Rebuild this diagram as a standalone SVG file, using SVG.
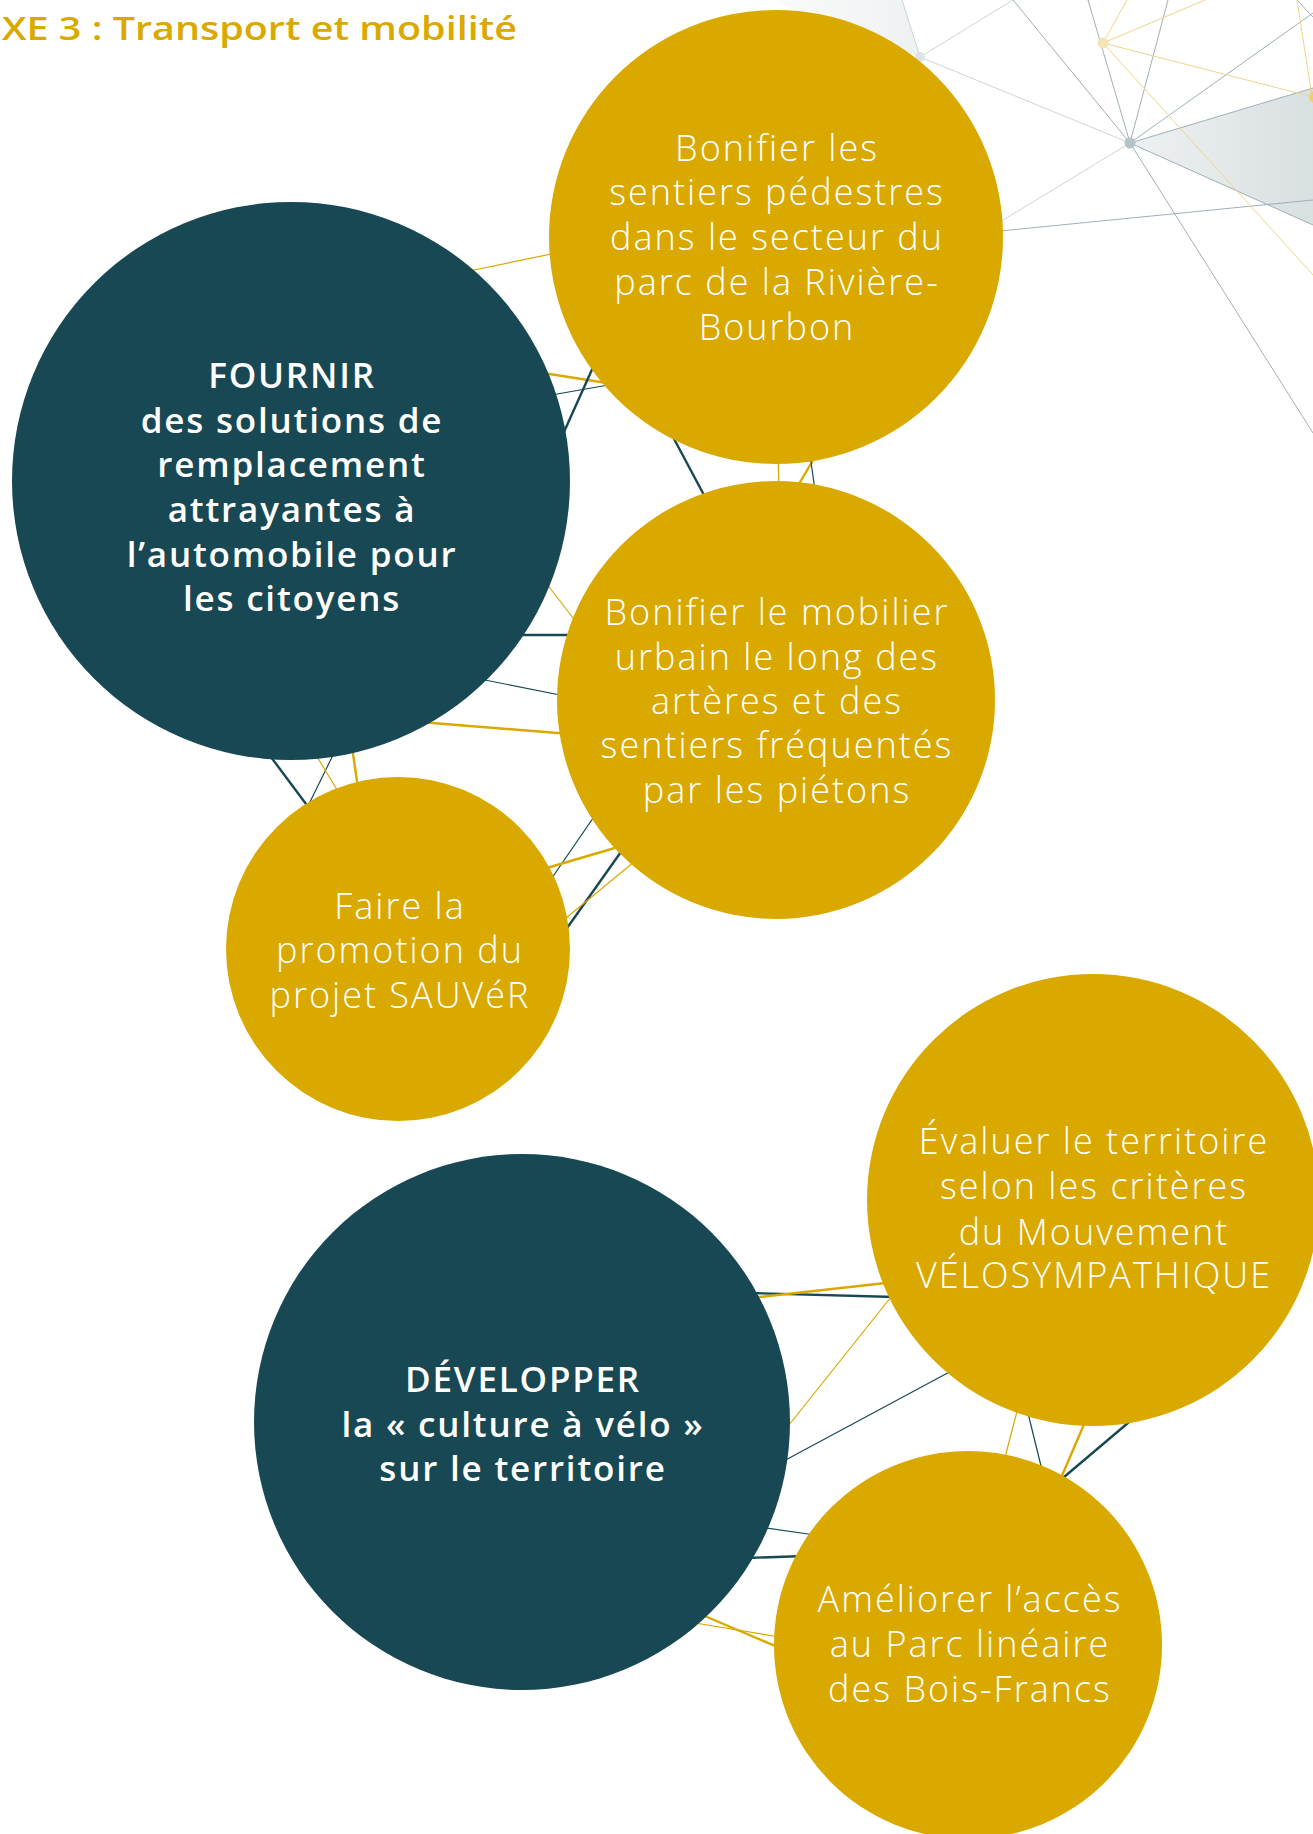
<svg xmlns="http://www.w3.org/2000/svg" width="1313" height="1834" viewBox="0 0 1313 1834">
<defs>
<linearGradient id="gA" x1="0" y1="0" x2="1" y2="0">
<stop offset="0" stop-color="#eef1f2"/><stop offset="1" stop-color="#d9e0e2"/>
</linearGradient>
<linearGradient id="gB" x1="0" y1="0" x2="1" y2="0">
<stop offset="0" stop-color="#fbfcfc"/><stop offset="1" stop-color="#eef1f2"/>
</linearGradient>
<style>
.gold{fill:#d9a900}
.dark{fill:#174853}
.lg{stroke:#d9a900;fill:none}
.ld{stroke:#174853;fill:none}
.t1{stroke-width:1.2}
.t2{stroke-width:2.4}
.dn{stroke:#9fb0b6;stroke-width:1;fill:none}
.dnl{stroke:#ccd5d8;stroke-width:1;fill:none}
.dny{stroke:#edd58d;stroke-width:1;fill:none}
.tl{font-family:"Open Sans","Liberation Sans",sans-serif;font-weight:300;font-size:36px;letter-spacing:2px;fill:#ffffff;text-anchor:middle;font-variant-ligatures:none}
.tb{font-family:"Open Sans","Liberation Sans",sans-serif;font-weight:600;font-size:35px;letter-spacing:1.8px;fill:#ffffff;text-anchor:middle;font-variant-ligatures:none}
.title{font-family:"Open Sans","Liberation Sans",sans-serif;font-weight:600;font-size:33px;fill:#d9a900}
</style>
</defs>
<rect width="1313" height="1834" fill="#ffffff"/>

<g id="decor">
<polygon points="765,-2 902,-2 920,57" fill="url(#gB)"/>
<polygon points="1130,143 1313,88 1313,225" fill="url(#gA)"/>
<line class="dnl" x1="902" y1="0" x2="920" y2="57"/>
<line class="dnl" x1="920" y1="57" x2="1013" y2="0"/>
<line class="dnl" x1="920" y1="57" x2="1130" y2="143"/>
<line class="dn" x1="1013" y1="0" x2="1130" y2="143"/>
<line class="dn" x1="1088" y1="0" x2="1130" y2="143"/>
<line class="dn" x1="1168" y1="0" x2="1130" y2="143"/>
<line class="dn" x1="1130" y1="143" x2="1313" y2="13"/>
<line class="dn" x1="1130" y1="143" x2="1313" y2="88"/>
<line class="dn" x1="1130" y1="143" x2="1313" y2="225"/>
<line class="dnl" x1="1130" y1="143" x2="990" y2="228"/>
<line class="dn" x1="1130" y1="143" x2="1313" y2="433"/>
<line class="dn" x1="990" y1="232" x2="1313" y2="200"/>
<line class="dn" x1="1297" y1="0" x2="1313" y2="17"/>
<line class="dny" x1="1103" y1="43" x2="1127" y2="0"/>
<line class="dny" x1="1103" y1="43" x2="1205" y2="0"/>
<line class="dny" x1="1103" y1="43" x2="1313" y2="97"/>
<line class="dny" x1="1103" y1="43" x2="1313" y2="275"/>
<line class="dny" x1="1297" y1="0" x2="1312" y2="97"/>
<circle cx="920" cy="57" r="5" fill="#dde3e6"/>
<circle cx="1130" cy="143" r="5.5" fill="#b5c3c7"/>
<circle cx="1103" cy="43" r="5.5" fill="#f4e3b6"/>
<circle cx="1315" cy="97" r="6" fill="#f0cf6e"/>
</g>

<text class="title" x="2" y="40" textLength="515" lengthAdjust="spacingAndGlyphs">XE 3 : Transport et mobilité</text>

<g id="connectors">
<line class="lg t1" x1="440" y1="277" x2="590" y2="246"/>
<line class="lg t2" x1="530" y1="371" x2="620" y2="385"/>
<line class="ld t1" x1="540" y1="397" x2="620" y2="383"/>
<line class="ld t2" x1="555" y1="452" x2="603" y2="345"/>
<line class="ld t2" x1="665" y1="422" x2="712" y2="510"/>
<line class="lg t1" x1="778" y1="455" x2="779" y2="490"/>
<line class="lg t2" x1="793" y1="494" x2="822" y2="445"/>
<line class="ld t1" x1="810" y1="455" x2="815" y2="490"/>
<line class="lg t1" x1="540" y1="575" x2="583" y2="631"/>
<line class="ld t2" x1="515" y1="635" x2="575" y2="635"/>
<line class="ld t1" x1="480" y1="679" x2="565" y2="696"/>
<line class="lg t2" x1="420" y1="722" x2="570" y2="734"/>
<line class="ld t2" x1="262" y1="745" x2="312" y2="812"/>
<line class="ld t1" x1="337" y1="747" x2="305" y2="812"/>
<line class="lg t1" x1="313" y1="750" x2="342" y2="798"/>
<line class="lg t2" x1="351" y1="740" x2="359" y2="795"/>
<line class="ld t1" x1="600" y1="808" x2="545" y2="888"/>
<line class="lg t2" x1="540" y1="870" x2="625" y2="845"/>
<line class="ld t2" x1="628" y1="842" x2="560" y2="938"/>
<line class="lg t1" x1="640" y1="857" x2="560" y2="923"/>
<line class="ld t2" x1="750" y1="1293" x2="895" y2="1297"/>
<line class="lg t2" x1="750" y1="1298" x2="895" y2="1282"/>
<line class="lg t1" x1="895" y1="1292" x2="785" y2="1430"/>
<line class="ld t1" x1="955" y1="1369" x2="780" y2="1463"/>
<line class="lg t1" x1="1020" y1="1400" x2="1003" y2="1465"/>
<line class="ld t1" x1="1026" y1="1405" x2="1042" y2="1470"/>
<line class="lg t2" x1="1088" y1="1415" x2="1058" y2="1485"/>
<line class="ld t2" x1="1135" y1="1417" x2="1057" y2="1483"/>
<line class="ld t1" x1="760" y1="1527" x2="815" y2="1535"/>
<line class="ld t2" x1="745" y1="1558" x2="805" y2="1556"/>
<line class="lg t2" x1="700" y1="1614" x2="780" y2="1648"/>
<line class="lg t1" x1="695" y1="1623" x2="780" y2="1637"/>
</g>

<g id="node-sentiers">
<circle class="gold" cx="776" cy="237" r="227"/>
<text class="tl" x="777" y="161">Bonifier les</text>
<text class="tl" x="777" y="205">sentiers pédestres</text>
<text class="tl" x="777" y="250">dans le secteur du</text>
<text class="tl" x="777" y="295">parc de la Rivière-</text>
<text class="tl" x="777" y="340">Bourbon</text>
</g>

<g id="node-fournir">
<circle class="dark" cx="291" cy="481" r="279"/>
<text class="tb" x="292" y="388">FOURNIR</text>
<text class="tb" x="292" y="433">des solutions de</text>
<text class="tb" x="292" y="477">remplacement</text>
<text class="tb" x="292" y="522">attrayantes à</text>
<text class="tb" x="292" y="567">l’automobile pour</text>
<text class="tb" x="292" y="611">les citoyens</text>
</g>

<g id="node-mobilier">
<circle class="gold" cx="776" cy="700" r="219"/>
<text class="tl" x="777" y="625">Bonifier le mobilier</text>
<text class="tl" x="777" y="670">urbain le long des</text>
<text class="tl" x="777" y="714">artères et des</text>
<text class="tl" x="777" y="758">sentiers fréquentés</text>
<text class="tl" x="777" y="803">par les piétons</text>
</g>

<g id="node-sauver">
<circle class="gold" cx="398" cy="949" r="172"/>
<text class="tl" x="400" y="919">Faire la</text>
<text class="tl" x="400" y="963">promotion du</text>
<text class="tl" x="400" y="1008">projet SAUVéR</text>
</g>

<g id="node-evaluer">
<circle class="gold" cx="1093" cy="1200" r="226"/>
<text class="tl" x="1094" y="1154">Évaluer le territoire</text>
<text class="tl" x="1094" y="1199">selon les critères</text>
<text class="tl" x="1094" y="1245">du Mouvement</text>
<text class="tl" x="1094" y="1288">VÉLOSYMPATHIQUE</text>
</g>

<g id="node-developper">
<circle class="dark" cx="522" cy="1422" r="268"/>
<text class="tb" x="523" y="1392">DÉVELOPPER</text>
<text class="tb" x="523" y="1437">la « culture à vélo »</text>
<text class="tb" x="523" y="1481">sur le territoire</text>
</g>

<g id="node-ameliorer">
<circle class="gold" cx="968" cy="1645" r="194"/>
<text class="tl" x="970" y="1612">Améliorer l’accès</text>
<text class="tl" x="970" y="1657">au Parc linéaire</text>
<text class="tl" x="970" y="1702">des Bois-Francs</text>
</g>
</svg>
